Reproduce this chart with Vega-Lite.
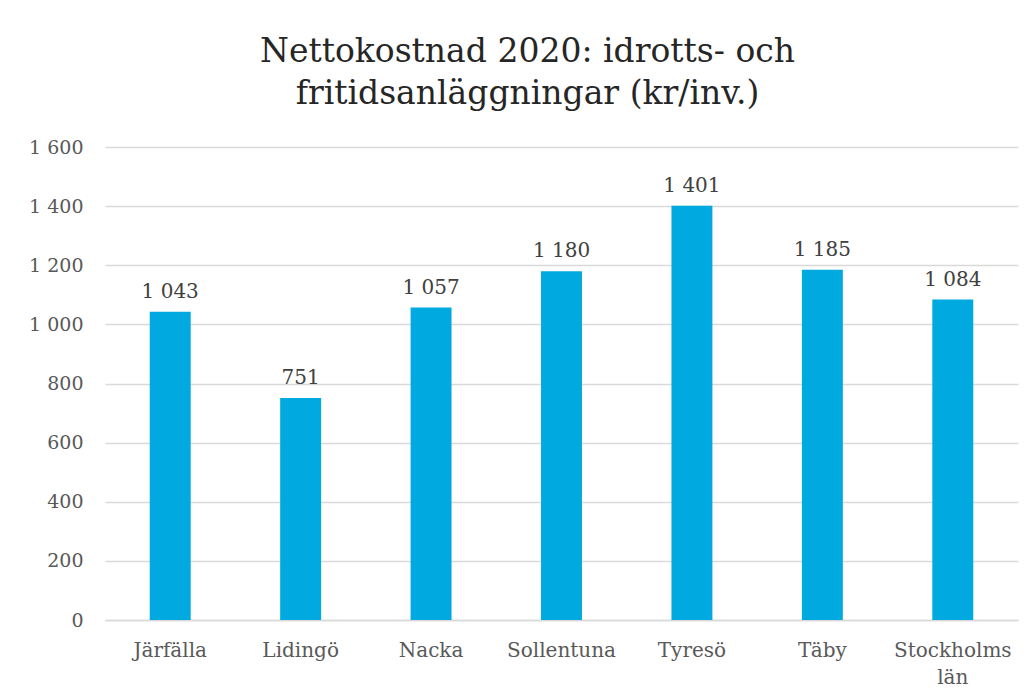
{
  "$schema": "https://vega.github.io/schema/vega-lite/v6.json",
  "width": 913,
  "height": 473,
  "autosize": {"type": "none"},
  "padding": {"left": 105, "top": 147, "right": 15, "bottom": 79},
  "background": "white",
  "title": {
    "text": ["Nettokostnad 2020: idrotts- och", "fritidsanläggningar (kr/inv.)"],
    "font": "DejaVu Serif",
    "fontSize": 33,
    "fontWeight": "normal",
    "color": "#262626",
    "anchor": "middle",
    "dx": -34,
    "offset": 27,
    "lineHeight": 42
  },
  "data": {
    "values": [
      {"kommun": "Järfälla", "value": 1043},
      {"kommun": "Lidingö", "value": 751},
      {"kommun": "Nacka", "value": 1057},
      {"kommun": "Sollentuna", "value": 1180},
      {"kommun": "Tyresö", "value": 1401},
      {"kommun": "Täby", "value": 1185},
      {"kommun": "Stockholms län", "value": 1084}
    ]
  },
  "encoding": {
    "x": {
      "field": "kommun",
      "type": "nominal",
      "sort": null,
      "scale": {"paddingInner": 0.686, "paddingOuter": 0.343},
      "axis": {
        "title": null,
        "labelAngle": 0,
        "labelFont": "DejaVu Serif",
        "labelFontSize": 20,
        "labelColor": "#595959",
        "labelPadding": 20,
        "labelLineHeight": 27,
        "ticks": false,
        "domainColor": "#d9d9d9",
        "domainWidth": 1.5,
        "labelExpr": "datum.label == 'Stockholms län' ? ['Stockholms', 'län'] : datum.label"
      }
    },
    "y": {
      "field": "value",
      "type": "quantitative",
      "scale": {"domain": [0, 1600]},
      "axis": {
        "title": null,
        "values": [0, 200, 400, 600, 800, 1000, 1200, 1400, 1600],
        "labelOverlap": false,
        "labelFont": "DejaVu Serif",
        "labelFontSize": 19,
        "labelColor": "#595959",
        "labelPadding": 22,
        "ticks": false,
        "domain": false,
        "gridColor": "#d9d9d9",
        "gridWidth": 1.5,
        "labelExpr": "replace(format(datum.value, ','), ',', ' ')"
      }
    }
  },
  "layer": [
    {"mark": {"type": "bar", "color": "#00a9e0"}},
    {
      "mark": {
        "type": "text",
        "font": "DejaVu Serif",
        "fontSize": 20,
        "color": "#404040",
        "baseline": "alphabetic",
        "dy": -14
      },
      "encoding": {
        "text": {"field": "value", "type": "quantitative", "format": ","}
      }
    }
  ],
  "config": {
    "view": {"stroke": null},
    "locale": {"number": {"decimal": ",", "thousands": " ", "grouping": [3], "currency": ["", " kr"]}}
  }
}
